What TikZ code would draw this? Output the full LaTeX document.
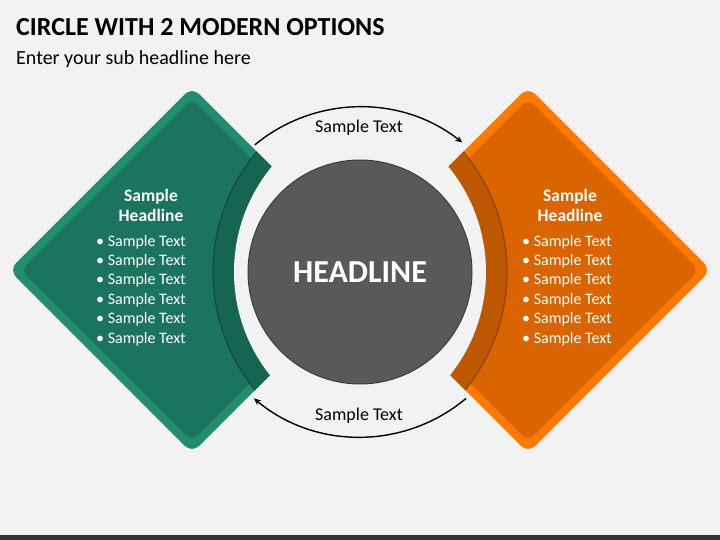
\documentclass[tikz,border=0pt]{standalone}
\usepackage{fontspec}
\setmainfont{Carlito}
\usetikzlibrary{arrows.meta}
\definecolor{bg}{HTML}{F2F2F2}
\definecolor{tealO}{HTML}{228C71}
\definecolor{tealI}{HTML}{1B7460}
\definecolor{tealB}{HTML}{166552}
\definecolor{orO}{HTML}{FF7800}
\definecolor{orI}{HTML}{D96400}
\definecolor{orB}{HTML}{BE5800}
\definecolor{hubc}{HTML}{595959}
\definecolor{barc}{HTML}{333333}
\begin{document}
\begin{tikzpicture}[x=1pt,y=-1pt,
  hd/.style={anchor=base, inner sep=0pt, text=white, font=\fontsize{17.5}{20}\selectfont\bfseries},
  bl/.style={anchor=base west, inner sep=0pt, text=white, font=\fontsize{16}{18}\selectfont},
  lbl/.style={inner sep=0pt, text=black, font=\fontsize{18}{21}\selectfont},
  arr/.style={line width=1.4pt, -{Stealth[length=7pt,width=6pt]}}]
\useasboundingbox (0,0) rectangle (720,540);
\fill[bg] (0,0) rectangle (720,540);
\fill[barc] (0,535) rectangle (720,540);
% title
\node[anchor=base west, inner sep=0pt, font=\fontsize{26}{30}\selectfont\bfseries] (title) at (16,36) {CIRCLE WITH 2 MODERN OPTIONS};
\node[anchor=base west, inner sep=0pt, font=\fontsize{20}{24}\selectfont] (sub) at (16,64.5) {Enter your sub headline here};
% left diamond
\begin{scope}
  \clip (0,0) rectangle (360,540);
  \fill[tealO, rounded corners=10pt] (192,87) -- (375,270) -- (192,453) -- (9,270) -- cycle;
  \fill[tealI, rounded corners=8pt] (192,99) -- (363,270) -- (192,441) -- (21,270) -- cycle;
  \begin{scope}
    \clip[rounded corners=10pt] (192,87) -- (375,270) -- (192,453) -- (9,270) -- cycle;
    \fill[tealB] (400,272) circle[radius=187];
    \draw[tealB!75!black, line width=1.2pt] (400,272) circle[radius=187];
  \end{scope}
  \fill[bg] (400,272) circle[radius=166];
\end{scope}
% right diamond
\begin{scope}
  \clip (360,0) rectangle (720,540);
  \fill[orO, rounded corners=10pt] (528,87) -- (711,270) -- (528,453) -- (345,270) -- cycle;
  \fill[orI, rounded corners=8pt] (528,99) -- (699,270) -- (528,441) -- (357,270) -- cycle;
  \begin{scope}
    \clip[rounded corners=10pt] (528,87) -- (711,270) -- (528,453) -- (345,270) -- cycle;
    \fill[orB] (320,272) circle[radius=187];
    \draw[orB!75!black, line width=1.2pt] (320,272) circle[radius=187];
  \end{scope}
  \fill[bg] (320,272) circle[radius=166];
\end{scope}
% hub
\node[circle, fill=hubc, draw=hubc!70!black, line width=1pt, minimum size=224pt, inner sep=0pt,
      text=white, font=\fontsize{32}{36}\selectfont\bfseries] (hub) at (360,272) {HEADLINE};
% arrows
\path (hub.center) ++(230.4:165) coordinate (a1s);
\path (hub.center) ++(50:165) coordinate (a2s);
\draw[arr] (a1s) arc[start angle=230.4, end angle=308.3, radius=165];
\draw[arr] (a2s) arc[start angle=50, end angle=130, radius=165];
\node[lbl] (t1) at (359,128) {Sample Text};
\node[lbl] (t2) at (359,416) {Sample Text};
% left texts
\node[hd] (Lh1) at (151,201.5) {Sample};
\node[hd] (Lh2) at (151,222) {Headline};
\foreach \i/\y in {1/246,2/265.4,3/284.8,4/304.2,5/323.6,6/343}
  \node[bl] (Lb\i) at (96,\y) {• Sample Text};
% right texts
\node[hd] (Rh1) at (570,201.5) {Sample};
\node[hd] (Rh2) at (570,222) {Headline};
\foreach \i/\y in {1/246,2/265.4,3/284.8,4/304.2,5/323.6,6/343}
  \node[bl] (Rb\i) at (522,\y) {• Sample Text};
\end{tikzpicture}
\end{document}
